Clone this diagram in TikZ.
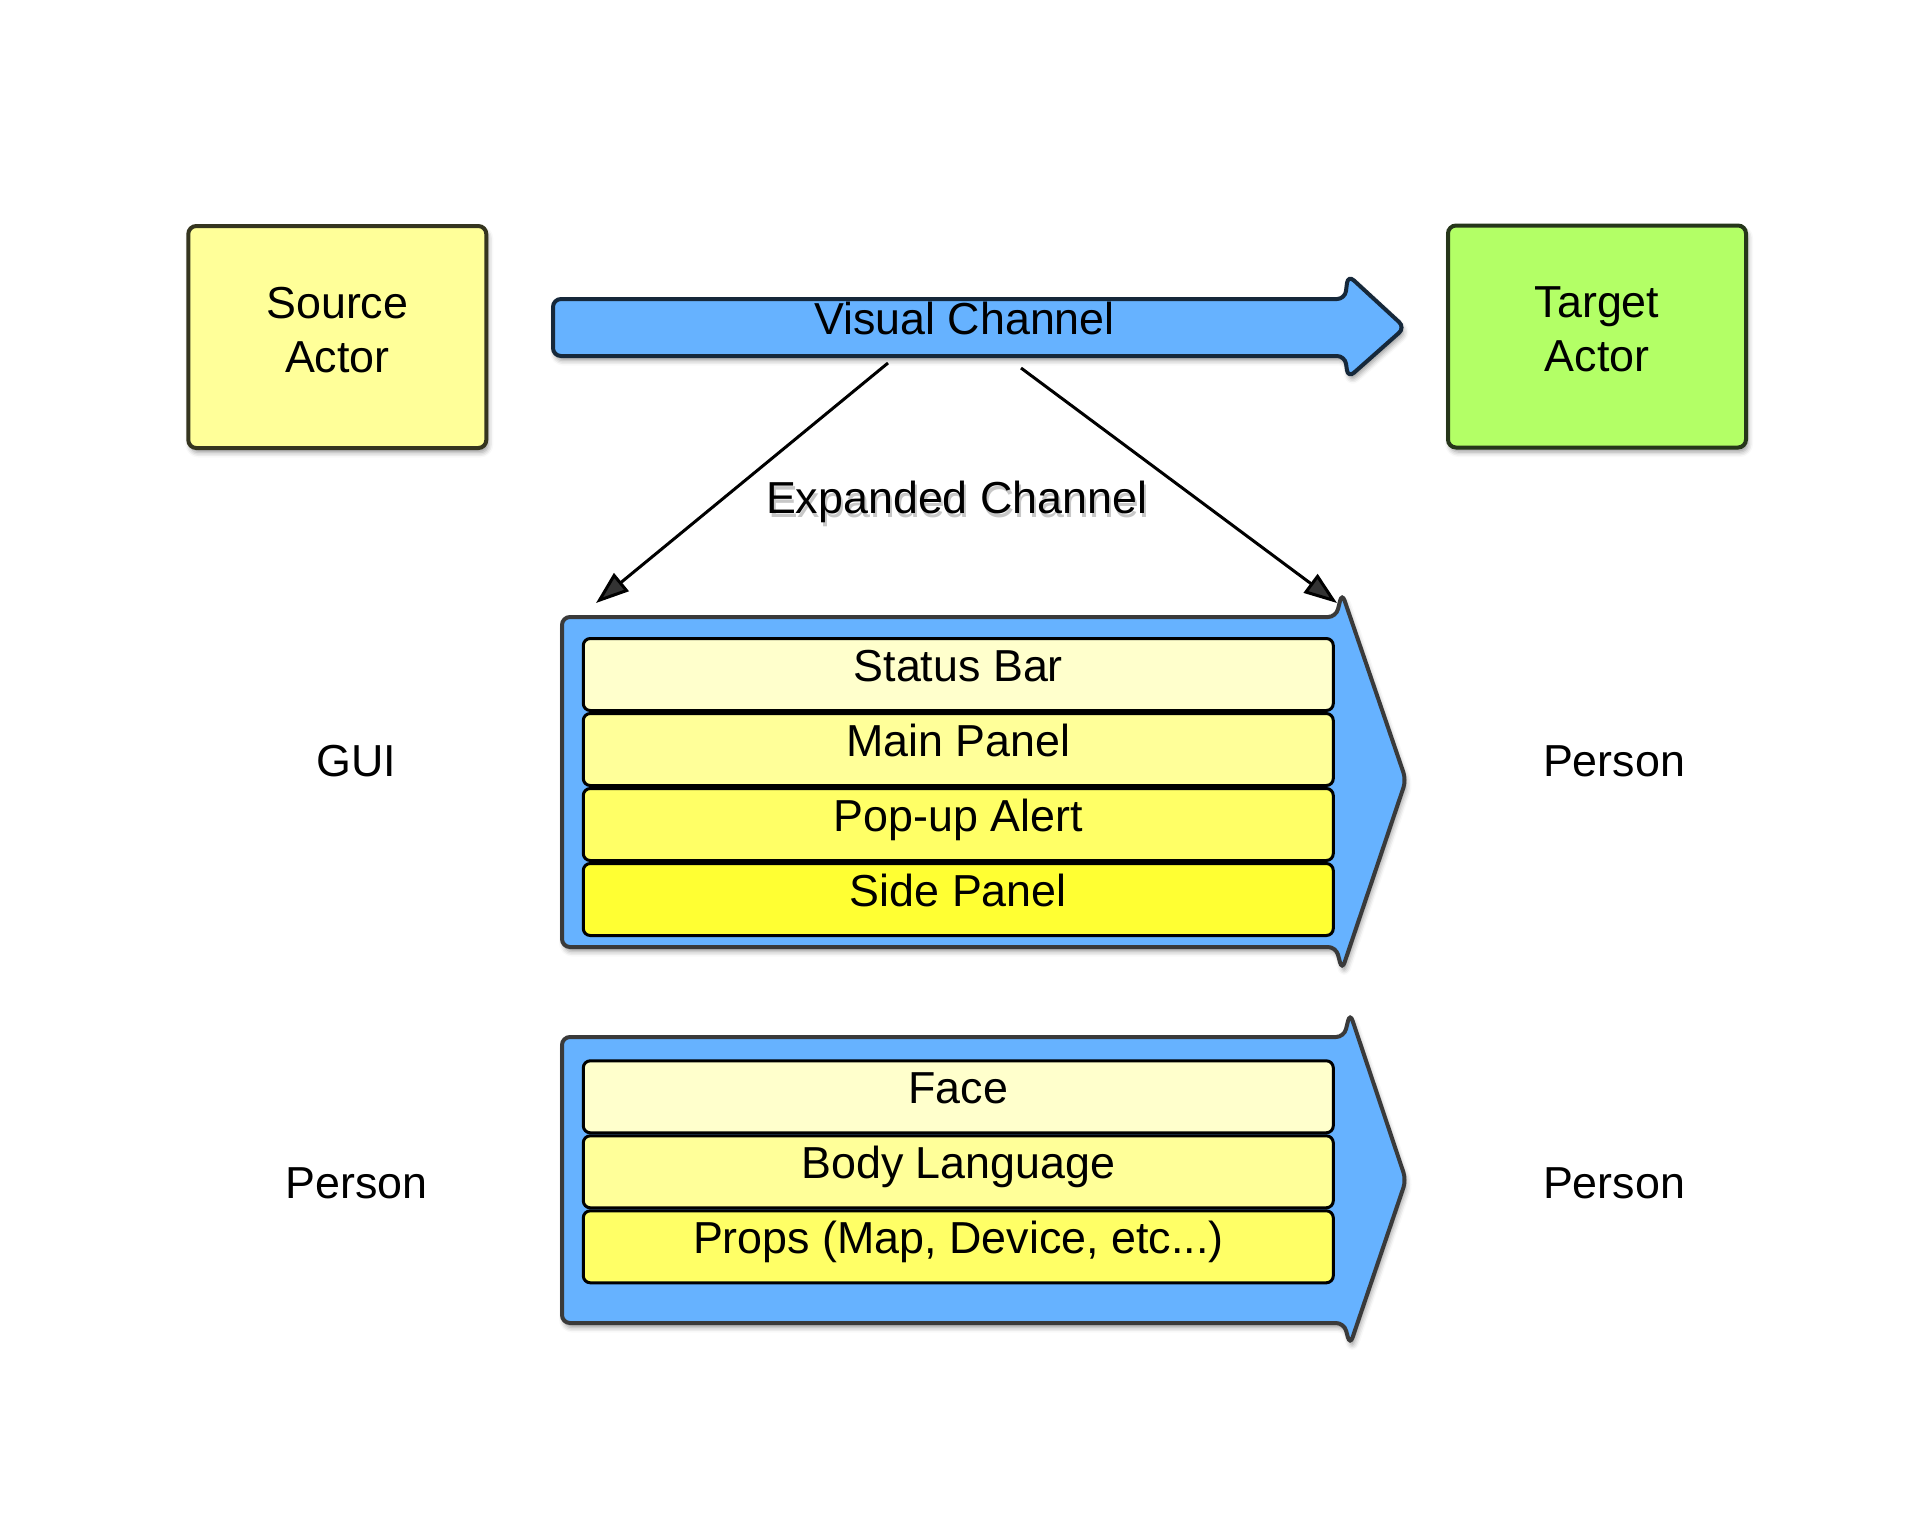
\documentclass[tikz,border=0pt]{standalone}
\usepackage{fontspec}
\setmainfont{Liberation Sans}
\usetikzlibrary{positioning,arrows.meta,shadows.blur}

\definecolor{SrcFill}{HTML}{FFFF99}
\definecolor{SrcLine}{HTML}{35351F}
\definecolor{TgtFill}{HTML}{B3FF66}
\definecolor{TgtLine}{HTML}{26361A}
\definecolor{ChanBlue}{HTML}{66B2FF}
\definecolor{VcLine}{HTML}{16283A}
\definecolor{ExLine}{HTML}{3A3A3A}
\definecolor{LayerA}{HTML}{FFFFCC}
\definecolor{LayerB}{HTML}{FFFF99}
\definecolor{LayerC}{HTML}{FFFF66}
\definecolor{LayerD}{HTML}{FFFF33}

\begin{document}
\begin{tikzpicture}[
        every node/.style={font=\fontsize{12.75pt}{15.25pt}\selectfont},
        ActorCfg/.style={
            draw, line width=0.04cm, rounded corners=0.08cm,
            minimum width=2.98cm, minimum height=2.22cm,
            align=center, text depth=0.146cm,
            blur shadow={shadow xshift=0.02cm, shadow yshift=-0.045cm, shadow blur radius=0.05cm, shadow opacity=40}
        },
        ChanCfg/.style={
            fill=ChanBlue, line width=0.04cm, rounded corners=0.08cm,
            blur shadow={shadow xshift=0.02cm, shadow yshift=-0.045cm, shadow blur radius=0.05cm, shadow opacity=40}
        },
        LayerCfg/.style={
            draw=black, line width=0.03cm, rounded corners=0.07cm,
            minimum width=7.5cm, minimum height=0.72cm, inner sep=0pt,
            text height=0.32cm, text depth=0.18cm
        },
        TextCfg/.style={text height=0.32cm, text depth=0.18cm, inner sep=0pt},
        ExpandCfg/.style={line width=0.03cm, -{Triangle[length=0.33cm,width=0.23cm]}}
    ]
    \useasboundingbox (0,0) rectangle (19.21,-15.38);

    %actors
    \node[ActorCfg, fill=SrcFill, draw=SrcLine] (Src) at (3.373,-3.37) {Source\\Actor};
    \node[ActorCfg, fill=TgtFill, draw=TgtLine] (Tgt) at (15.97,-3.365) {Target\\Actor};

    %visual channel
    \draw[ChanCfg, draw=VcLine] (5.53,-2.99) -- (13.45,-2.99) -- (13.48,-2.75) -- (14.05,-3.275) -- (13.48,-3.78) -- (13.45,-3.56) -- (5.53,-3.56) -- cycle;
    \node[TextCfg] (VC) at (9.645,-3.277) {Visual Channel};
    \coordinate (VCl) at (8.88,-3.63);
    \coordinate (VCr) at (10.21,-3.68);

    %expanded channel 1
    \draw[ChanCfg, draw=ExLine] (5.62,-6.17) -- (13.36,-6.17) -- (13.42,-5.93) -- (14.06,-7.80) -- (13.42,-9.70) -- (13.36,-9.47) -- (5.62,-9.47) -- cycle;
    \coordinate (EXl) at (5.96,-6.03);
    \coordinate (EXr) at (13.37,-6.03);
    \node[LayerCfg, fill=LayerA] (SB) at (9.583,-6.745) {Status Bar};
    \node[LayerCfg, fill=LayerB, below=0pt of SB] (MP) {Main Panel};
    \node[LayerCfg, fill=LayerC, below=0pt of MP] (PA) {Pop-up Alert};
    \node[LayerCfg, fill=LayerD, below=0pt of PA] (SP) {Side Panel};

    %expanded channel 2
    \draw[ChanCfg, draw=ExLine] (5.62,-10.37) -- (13.44,-10.37) -- (13.50,-10.13) -- (14.06,-11.80) -- (13.50,-13.45) -- (13.44,-13.23) -- (5.62,-13.23) -- cycle;
    \node[LayerCfg, fill=LayerA] (FC) at (9.583,-10.968) {Face};
    \node[LayerCfg, fill=LayerB, below=0pt of FC] (BL) {Body Language};
    \node[LayerCfg, fill=LayerC, below=0pt of BL] (PR) {Props (Map, Device, etc...)};

    %labels
    \node[TextCfg, text=black, opacity=0.22] (ECs) at (9.587,-5.105) {Expanded Channel};
    \node[TextCfg] (EC) at (9.567,-5.068) {Expanded Channel};
    \node[TextCfg] (GUI) at (3.56,-7.69) {GUI};
    \node[TextCfg] (PL1) at (16.14,-7.69) {Person};
    \node[TextCfg] (PL2) at (3.563,-11.91) {Person};
    \node[TextCfg] (PL3) at (16.14,-11.91) {Person};

    %connections
    \draw[ExpandCfg] (VCl) -- (EXl);
    \draw[ExpandCfg] (VCr) -- (EXr);

\end{tikzpicture}
\end{document}
